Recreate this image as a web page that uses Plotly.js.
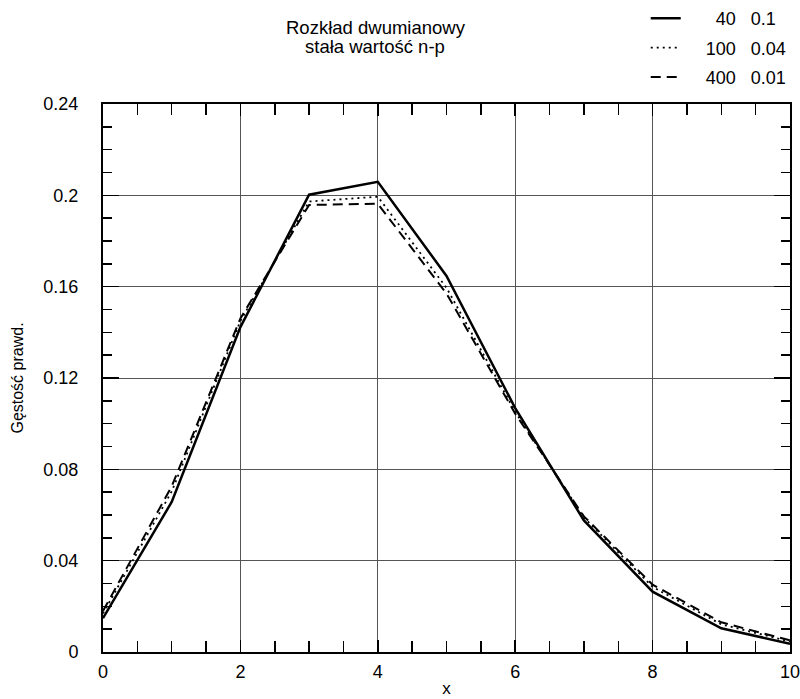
<!DOCTYPE html>
<html><head><meta charset="utf-8">
<script src="https://cdn.plot.ly/plotly-3.0.1.min.js"></script>
<style>html,body{margin:0;padding:0;background:#fff}#chart{width:800px;height:699px}</style>
</head><body><div id="chart"></div>
<script>
// Data (binomial probabilities, constant n·p = 4)
const xValues = [0,1,2,3,4,5,6,7,8,9,10];
const n40p01  = [0.0148,0.0657,0.1423,0.2003,0.2059,0.1647,0.1068,0.0576,0.0264,0.0104,0.0036];
const n100p004 = [0.0169,0.0703,0.1450,0.1973,0.1994,0.1595,0.1052,0.0589,0.0285,0.0121,0.0046];
const n400p001 = [0.0180,0.0725,0.1461,0.1958,0.1963,0.1570,0.1044,0.0594,0.0295,0.0130,0.0051];
const seriesNames = ["40 0.1","100 0.04","400 0.01"];
const titleLines = ["Rozkład dwumianowy","stała wartość n-p"];
const xTickVals = [0,2,4,6,8,10];
const yTickVals = [0,0.04,0.08,0.12,0.16,0.2,0.24];

const NB = "\u00a0";
// legend label: right-aligned n column, wider gap before p
function legendLabel(s){
  const [n,p] = s.split(" ");
  return NB.repeat(4) + NB.repeat(2*(3-n.length)) + n + NB.repeat(3) + p;
}

const FONT = "Liberation Sans, Arial, sans-serif";
const traces = [
  {x:xValues, y:n40p01, name:legendLabel(seriesNames[0]), legendgroup:"a", mode:"lines",
   line:{color:"#000", width:2.5, dash:"solid"}},
  {x:xValues, y:n100p004, name:legendLabel(seriesNames[1]), legendgroup:"b", mode:"lines",
   line:{color:"#000", width:1.8, dash:"2px,4px"}},
  {x:xValues, y:n400p001, name:legendLabel(seriesNames[2]), legendgroup:"c", mode:"lines",
   line:{color:"#000", width:2, dash:"10px,6px"}}
];

const layout = {
  width:800, height:699,
  margin:{l:103, r:10, t:104, b:47},
  paper_bgcolor:"#fff", plot_bgcolor:"#fff",
  font:{family:FONT, size:18, color:"#000"},
  showlegend:true,
  legend:{x:0.79, xanchor:"left", y:1.005, yanchor:"top", xref:"paper", yref:"container",
          bgcolor:"rgba(0,0,0,0)", borderwidth:0, tracegroupgap:3,
          font:{family:FONT, size:18}, itemwidth:30},
  xaxis:{range:[0,10], tickvals:xTickVals, ticktext:xTickVals.map(String),
         showgrid:true, gridcolor:"#555", gridwidth:1,
         showline:true, linecolor:"#000", linewidth:2, mirror:"ticks",
         ticks:"inside", ticklen:12, tickcolor:"#000", tickwidth:1.5,
         minor:{dtick:0.5, tick0:0, ticks:"inside", ticklen:11, tickcolor:"#000", tickwidth:1.5, showgrid:false},
         zeroline:false, tickfont:{size:18}, ticklabelstandoff:2, ticklabeloverflow:"allow",
         title:{text:"x", font:{size:17}, standoff:2}},
  yaxis:{range:[0,0.24], tickvals:yTickVals, ticktext:yTickVals.map(v=>String(v)),
         showgrid:true, gridcolor:"#555", gridwidth:1,
         showline:true, linecolor:"#000", linewidth:2, mirror:"ticks",
         ticks:"inside", ticklen:16, tickcolor:"#000", tickwidth:1.5,
         minor:{dtick:0.01, tick0:0, ticks:"inside", ticklen:9, tickcolor:"#000", tickwidth:1.5, showgrid:false},
         zeroline:false, tickfont:{size:18}, ticklabelstandoff:19, ticklabeloverflow:"allow",
         title:{text:"Gęstość prawd.", font:{size:16}, standoff:16}},
  annotations:[
    {text:titleLines[0], xref:"paper", yref:"paper",
     x:0.398, y:1.1387, xanchor:"center", yanchor:"middle", showarrow:false,
     font:{family:FONT, size:18.5}},
    {text:titleLines[1], xref:"paper", yref:"paper",
     x:0.396, y:1.1058, xanchor:"center", yanchor:"middle", showarrow:false,
     font:{family:FONT, size:18.5}}
  ]
};
Plotly.newPlot("chart", traces, layout, {displayModeBar:false, staticPlot:true});
</script></body></html>
